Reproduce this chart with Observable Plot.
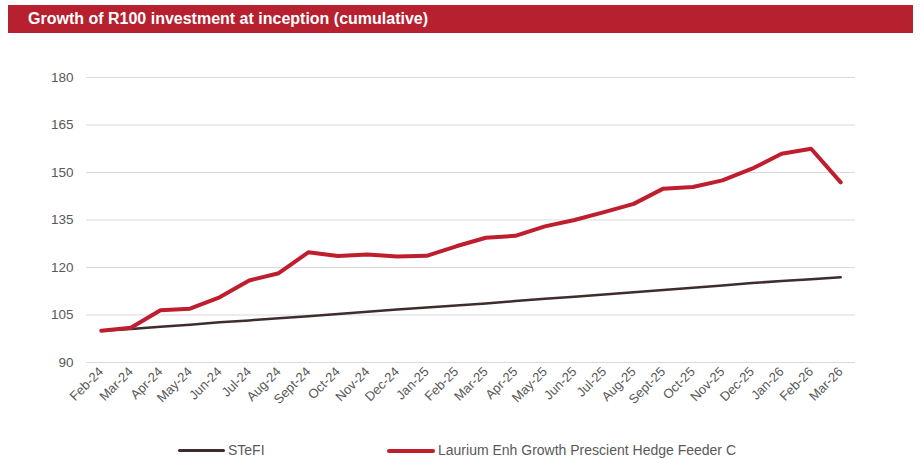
<!DOCTYPE html>
<html>
<head>
<meta charset="utf-8">
<script src="https://cdn.jsdelivr.net/npm/d3@7"></script>
<script src="https://cdn.jsdelivr.net/npm/@observablehq/plot@0.6"></script>
<style>
  html, body { margin: 0; padding: 0; background: #fff; width: 923px; height: 459px; overflow: hidden; }
  body { font-family: "Liberation Sans", Arial, sans-serif; position: relative; }
  #title { position: absolute; left: 8px; top: 5px; width: 905px; height: 28px; background: #b7202e;
           color: #fff; font-weight: bold; font-size: 16px; line-height: 28px; padding-left: 20px; box-sizing: border-box; }
  #chart { position: absolute; left: 0; top: 40px; }
  #legend { position: absolute; left: 0; top: 442px; width: 923px; height: 17px; font-size: 14px; line-height: 17px; color: #595959; }
  .item { position: absolute; top: 0; display: flex; align-items: center; height: 17px; white-space: nowrap; }
  .sw { display: inline-block; margin-right: 3px; border-radius: 2px; }
</style>
</head>
<body>
<div id="title">Growth of R100 investment at inception (cumulative)</div>
<div id="chart"></div>
<div id="legend"></div>
<script>
const months = ["Feb-24","Mar-24","Apr-24","May-24","Jun-24","Jul-24","Aug-24","Sept-24","Oct-24","Nov-24","Dec-24","Jan-25",
  "Feb-25","Mar-25","Apr-25","May-25","Jun-25","Jul-25","Aug-25","Sept-25","Oct-25","Nov-25","Dec-25","Jan-26","Feb-26","Mar-26"];
const fundValues = [100.0, 101.0, 106.5, 107.0, 110.6, 115.9, 118.2, 124.8, 123.6, 124.1, 123.5, 123.7,
  126.7, 129.4, 130.0, 133.0, 135.0, 137.5, 140.1, 144.9, 145.4, 147.5, 151.2, 155.9, 157.5, 146.9];
const stefiValues = [100.0, 100.6, 101.3, 101.9, 102.7, 103.3, 104.0, 104.6, 105.3, 106.0, 106.7, 107.4,
  108.0, 108.6, 109.4, 110.1, 110.8, 111.5, 112.2, 112.9, 113.6, 114.3, 115.1, 115.7, 116.3, 116.9];
const yTicks = [90, 105, 120, 135, 150, 165, 180];
const seriesNames = ["STeFI", "Laurium Enh Growth Prescient Hedge Feeder C"];
const seriesColors = ["#3f2d2d", "#be1e2d"];
const seriesWidths = [2.5, 4];

const stefi = months.map((m, i) => ({month: m, value: stefiValues[i]}));
const fund = months.map((m, i) => ({month: m, value: fundValues[i]}));

const chart = Plot.plot({
  width: 923,
  height: 385,
  marginTop: 37,
  marginBottom: 63,
  marginLeft: 86,
  marginRight: 68,
  style: {fontFamily: '"Liberation Sans", Arial, sans-serif', fontSize: "13px", color: "#595959", background: "#fff"},
  x: {type: "point", domain: months, padding: 0.5, round: false, label: null},
  y: {domain: [90, 180], label: null},
  marks: [
    Plot.gridY(yTicks, {stroke: "#d9d9d9", strokeOpacity: 1, strokeWidth: 1.2}),
    Plot.axisY({ticks: yTicks, tickSize: 0, tickPadding: 13, fontSize: 13.5, fill: "#595959", label: null}),
    Plot.axisX({tickSize: 0, tickPadding: 7, tickRotate: -45, fontSize: 13, fill: "#595959", label: null}),
    Plot.line(stefi, {x: "month", y: "value", stroke: seriesColors[0], strokeWidth: seriesWidths[0], strokeLinejoin: "round", strokeLinecap: "round"}),
    Plot.line(fund, {x: "month", y: "value", stroke: seriesColors[1], strokeWidth: seriesWidths[1], strokeLinejoin: "round", strokeLinecap: "round"})
  ]
});
document.getElementById("chart").appendChild(chart);

const legend = document.getElementById("legend");
const lefts = [178, 387];
const swatchWidths = [47, 48];
seriesNames.forEach((name, i) => {
  const item = document.createElement("div");
  item.className = "item";
  item.style.left = lefts[i] + "px";
  const sw = document.createElement("span");
  sw.className = "sw";
  sw.style.background = seriesColors[i];
  sw.style.width = swatchWidths[i] + "px";
  sw.style.height = (i === 0 ? 3 : 4) + "px";
  item.appendChild(sw);
  const t = document.createElement("span");
  t.textContent = name;
  item.appendChild(t);
  legend.appendChild(item);
});
</script>
</body>
</html>
